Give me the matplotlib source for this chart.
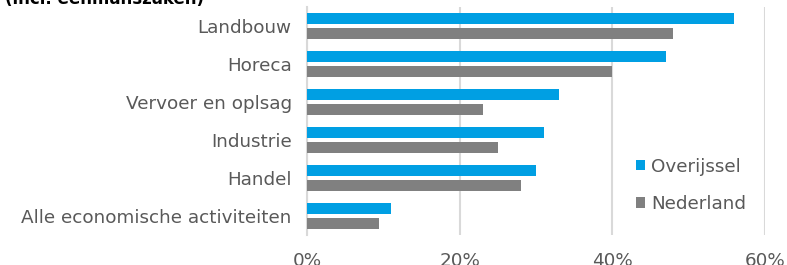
import numpy as np
import matplotlib
matplotlib.use('Agg')
import matplotlib.pyplot as plt

# data, top to bottom as in the chart
categories = ['Landbouw', 'Horeca', 'Vervoer en oplsag', 'Industrie', 'Handel',
              'Alle economische activiteiten']
overijssel = [0.56, 0.47, 0.33, 0.31, 0.30, 0.11]
nederland = [0.48, 0.40, 0.23, 0.25, 0.28, 0.095]
ticks = [0, 0.2, 0.4, 0.6]
tick_labels = ['0%', '20%', '40%', '60%']

blue = '#009FE3'
grey = '#808080'
txt = '#595959'

fig = plt.figure(figsize=(7.87, 2.65), dpi=100)
ax = fig.add_axes([0.390, 0.113, 0.582, 0.861])

y = np.arange(len(categories))[::-1]
h = 0.29
ax.barh(y + 0.19, overijssel, height=h, color=blue, label='Overijssel', zorder=3)
ax.barh(y - 0.19, nederland, height=h, color=grey, label='Nederland', zorder=3)

ax.set_xlim(0, 0.6)
ax.set_ylim(-0.5, len(categories) - 0.5)
ax.set_xticks(ticks)
ax.set_xticklabels(tick_labels)
ax.set_yticks(y)
ax.set_yticklabels(categories)
ax.tick_params(axis='both', length=0, labelsize=13.2, labelcolor=txt)
ax.tick_params(axis='y', pad=11)
ax.tick_params(axis='x', pad=12)
ax.grid(axis='x', color='#d9d9d9', linewidth=1.5, zorder=0)
for s in ['top', 'right', 'bottom']:
    ax.spines[s].set_visible(False)
ax.spines['left'].set_color('#d9d9d9')
ax.spines['left'].set_linewidth(1.5)

leg = ax.legend(loc='lower right', bbox_to_anchor=(0.995, 0.025), frameon=False,
                fontsize=13.2, handlelength=0.5, handleheight=0.5,
                handletextpad=0.35, labelspacing=1.05)
for t in leg.get_texts():
    t.set_color(txt)

fig.text(0.006, 1 - 4 / 265, '(incl. eenmanszaken)', fontsize=12,
         fontweight='bold', color='black', va='baseline')

fig.savefig('out.png', dpi=100)
